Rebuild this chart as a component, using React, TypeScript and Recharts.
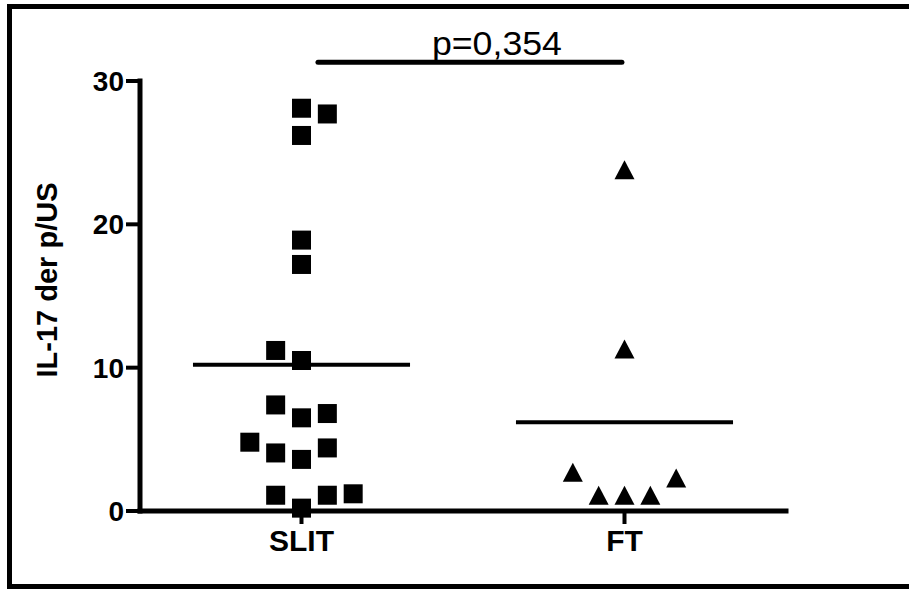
import React from 'react';
import { ScatterChart, Scatter, XAxis, YAxis, ReferenceLine } from 'recharts';

// groups on the x axis
const categories = ['SLIT', 'FT'];
const yTicks = [0, 10, 20, 30];

// SLIT values and their jitter slot
const slitValues = [28.1, 27.7, 26.2, 18.9, 17.2, 11.2, 10.5, 7.4, 6.5, 6.8, 4.8, 4.05, 3.6, 4.4, 1.1, 0.2, 1.1, 1.2];
const slitJitter = [0, 1, 0, 0, 0, -1, 0, -1, 0, 1, -2, -1, 0, 1, -1, 0, 1, 2];

// FT values and jitter slot
const ftValues = [23.8, 11.3, 2.7, 1.1, 1.1, 1.1, 2.3];
const ftJitter = [0, 0, -2, -1, 0, 1, 2];

// group means drawn as horizontal lines
const groupMeans = [10.2, 6.2];

const pValueText = 'p=0,354';
const pBarY = 31.3;

const jitterStep = 0.08;
const meanHalfWidth = 0.336;

const slitData = slitValues.map((v, i) => ({ x: 1 + slitJitter[i] * jitterStep, y: v }));
const ftData = ftValues.map((v, i) => ({ x: 2 + ftJitter[i] * jitterStep, y: v }));

const font = '"Liberation Sans", Arial, sans-serif';

const Square = (props: any) => {
  const { cx, cy } = props;
  const s = 19;
  return <rect x={cx - s / 2} y={cy - s / 2} width={s} height={s} fill="#000" />;
};

const Triangle = (props: any) => {
  const { cx, cy } = props;
  const w = 20;
  const h = 19;
  return (
    <polygon
      points={`${cx - w / 2},${cy + h / 2} ${cx + w / 2},${cy + h / 2} ${cx},${cy - h / 2}`}
      fill="#000"
    />
  );
};

const YLabel = (props: any) => {
  const vb = props.viewBox || {};
  const x = vb.x - 23;
  const y = vb.y + vb.height / 2 - 16;
  return (
    <text
      x={x}
      y={y}
      transform={`rotate(-90, ${x}, ${y})`}
      textAnchor="middle"
      fontFamily={font}
      fontWeight="bold"
      fontSize={29}
      fill="#000"
    >
      IL-17 der p/US
    </text>
  );
};

const PLabel = (props: any) => {
  const vb = props.viewBox || {};
  const cx = vb.x + (vb.width || 0) / 2 + 27;
  return (
    <text
      x={cx}
      y={vb.y - 7}
      textAnchor="middle"
      fontFamily={font}
      fontSize={33}
      textLength={130}
      lengthAdjust="spacingAndGlyphs"
      fill="#000"
    >
      {pValueText}
    </text>
  );
};

export default function App() {
  return (
    <div style={{ position: 'absolute', left: 0, top: 0, width: 909, height: 589, background: '#fff' }}>
      <div
        style={{
          position: 'absolute',
          left: 7,
          top: 4,
          width: 902,
          height: 585,
          boxSizing: 'border-box',
          borderLeft: '5px solid #000',
          borderTop: '5px solid #000',
          borderBottom: '5px solid #000',
        }}
      />
      <div style={{ position: 'absolute', left: 0, top: 0 }}>
        <ScatterChart width={909} height={589} margin={{ top: 81, right: 123, bottom: 18, left: 80 }}>
          <XAxis
            type="number"
            dataKey="x"
            domain={[0.5, 2.5]}
            ticks={[1, 2]}
            tickFormatter={(v: number) => categories[v - 1]}
            axisLine={{ stroke: '#000', strokeWidth: 5, strokeLinecap: 'square' }}
            tickLine={{ stroke: '#000', strokeWidth: 4 }}
            tickSize={13}
            tickMargin={6}
            height={60}
            tick={{ fill: '#000', fontFamily: font, fontWeight: 'bold', fontSize: 30 }}
          />
          <YAxis
            type="number"
            dataKey="y"
            domain={[0, 30]}
            ticks={yTicks}
            axisLine={{ stroke: '#000', strokeWidth: 5, strokeLinecap: 'square' }}
            tickLine={{ stroke: '#000', strokeWidth: 4 }}
            tickSize={14}
            tickMargin={2}
            width={60}
            tick={{ fill: '#000', fontFamily: font, fontWeight: 'bold', fontSize: 28 }}
            label={<YLabel />}
          />
          <ReferenceLine
            segment={[{ x: 1 - meanHalfWidth, y: groupMeans[0] }, { x: 1 + meanHalfWidth, y: groupMeans[0] }]}
            stroke="#000"
            strokeWidth={4}
          />
          <ReferenceLine
            segment={[{ x: 2 - meanHalfWidth, y: groupMeans[1] }, { x: 2 + meanHalfWidth, y: groupMeans[1] }]}
            stroke="#000"
            strokeWidth={4}
          />
          <ReferenceLine
            segment={[{ x: 1.051, y: pBarY }, { x: 1.992, y: pBarY }]}
            stroke="#000"
            strokeWidth={5}
            strokeLinecap="round"
            ifOverflow="visible"
            label={<PLabel />}
          />
          <Scatter data={slitData} shape={<Square />} isAnimationActive={false} />
          <Scatter data={ftData} shape={<Triangle />} isAnimationActive={false} />
        </ScatterChart>
      </div>
    </div>
  );
}
